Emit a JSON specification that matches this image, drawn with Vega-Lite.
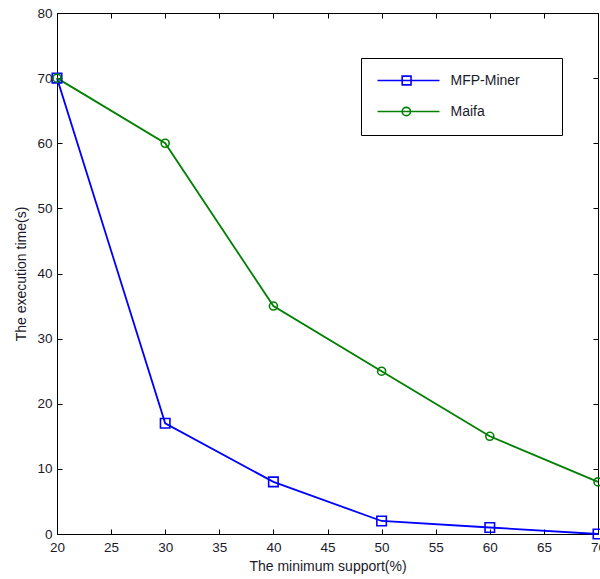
{
  "$schema": "https://vega.github.io/schema/vega-lite/v6.json",
  "width": 541,
  "height": 521,
  "autosize": {"type": "none"},
  "padding": {"left": 57, "top": 13, "right": 2, "bottom": 45},
  "background": "white",
  "config": {
    "view": {"stroke": null},
    "font": "Liberation Sans",
    "axis": {
      "grid": false,
      "domainColor": "#000000",
      "domainWidth": 1,
      "tickColor": "#000000",
      "tickWidth": 1,
      "tickSize": -5,
      "labelFont": "Liberation Sans",
      "labelFontSize": 13.5,
      "labelColor": "#1a1a2a",
      "titleFont": "Liberation Sans",
      "titleFontSize": 14,
      "titleFontWeight": "normal",
      "titleColor": "#1a1a2a"
    },
    "legend": {
      "orient": "none",
      "legendX": 304,
      "legendY": 45,
      "padding": 15.5,
      "strokeColor": "#000000",
      "fillColor": "#ffffff",
      "symbolSize": 108,
      "symbolStrokeWidth": 1.6,
      "symbolOpacity": 1,
      "symbolFillColor": "transparent",
      "symbolOffset": 0,
      "labelOffset": 60,
      "rowPadding": 15,
      "labelFont": "Liberation Sans",
      "labelFontSize": 14,
      "labelColor": "#1a1a2a"
    }
  },
  "data": {
    "values": [
      {"support": 20, "time": 70, "method": "MFP-Miner"},
      {"support": 30, "time": 17, "method": "MFP-Miner"},
      {"support": 40, "time": 8, "method": "MFP-Miner"},
      {"support": 50, "time": 2, "method": "MFP-Miner"},
      {"support": 60, "time": 1, "method": "MFP-Miner"},
      {"support": 70, "time": 0, "method": "MFP-Miner"},
      {"support": 20, "time": 70, "method": "Maifa"},
      {"support": 30, "time": 60, "method": "Maifa"},
      {"support": 40, "time": 35, "method": "Maifa"},
      {"support": 50, "time": 25, "method": "Maifa"},
      {"support": 60, "time": 15, "method": "Maifa"},
      {"support": 70, "time": 8, "method": "Maifa"}
    ]
  },
  "layer": [
    {
      "mark": {"type": "line", "strokeWidth": 1.8, "clip": false},
      "encoding": {
        "x": {
          "field": "support", "type": "quantitative",
          "scale": {"domain": [20, 70], "nice": false, "zero": false},
          "axis": {"orient": "bottom", "values": [20, 25, 30, 35, 40, 45, 50, 55, 60, 65, 70], "labelPadding": 11, "title": "The minimum support(%)", "titlePadding": 6, "labelFlush": false}
        },
        "y": {
          "field": "time", "type": "quantitative",
          "scale": {"domain": [0, 80], "nice": false, "zero": false},
          "axis": {"orient": "left", "values": [0, 10, 20, 30, 40, 50, 60, 70, 80], "labelPadding": 10, "title": "The execution time(s)", "titlePadding": 8, "labelFlush": false}
        },
        "color": {
          "field": "method", "type": "nominal",
          "scale": {"domain": ["MFP-Miner", "Maifa"], "range": ["#0000ff", "#008000"]},
          "title": null
        }
      }
    },
    {
      "transform": [{"filter": "datum.method === 'MFP-Miner'"}],
      "mark": {"type": "point", "shape": "square", "filled": false, "strokeWidth": 1.6, "size": 90, "clip": false, "opacity": 1},
      "encoding": {
        "x": {
          "field": "support", "type": "quantitative",
          "axis": {"orient": "top", "values": [20, 25, 30, 35, 40, 45, 50, 55, 60, 65, 70], "labels": false, "title": null}
        },
        "y": {
          "field": "time", "type": "quantitative",
          "axis": {"orient": "right", "values": [0, 10, 20, 30, 40, 50, 60, 70, 80], "labels": false, "title": null}
        },
        "color": {"field": "method", "type": "nominal", "title": null}
      }
    },
    {
      "transform": [{"filter": "datum.method === 'Maifa'"}],
      "mark": {"type": "point", "shape": "circle", "filled": false, "strokeWidth": 1.6, "size": 64, "clip": false, "opacity": 1},
      "encoding": {
        "x": {"field": "support", "type": "quantitative", "axis": null},
        "y": {"field": "time", "type": "quantitative", "axis": null},
        "color": {"field": "method", "type": "nominal", "title": null}
      }
    },
    {
      "mark": {"type": "point", "filled": false, "clip": false, "opacity": 0},
      "encoding": {
        "x": {"field": "support", "type": "quantitative", "axis": null},
        "y": {"field": "time", "type": "quantitative", "axis": null},
        "color": {"field": "method", "type": "nominal", "title": null},
        "shape": {
          "field": "method", "type": "nominal", "title": null,
          "scale": {"domain": ["MFP-Miner", "Maifa"], "range": ["M-1.155,0H10.777M3.6,-0.85H5.3V0.85H3.6ZM30.6,0", "M-1.155,0H10.777M3.6,0A0.8,0.8 0 1,1 5.2,0A0.8,0.8 0 1,1 3.6,0ZM30.6,0"]}
        }
      }
    }
  ],
  "resolve": {"axis": {"x": "independent", "y": "independent"}}
}
